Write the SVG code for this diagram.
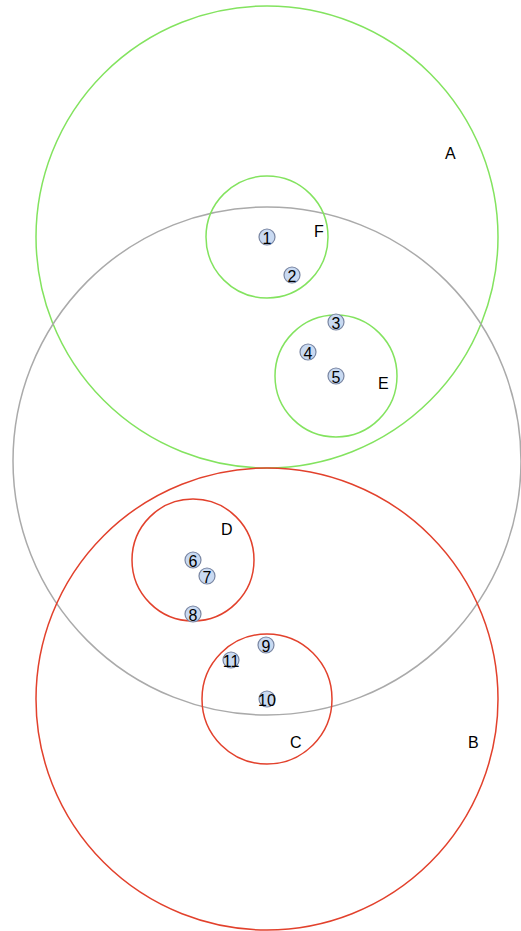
<svg xmlns="http://www.w3.org/2000/svg" width="521" height="931" viewBox="0 0 521 931">
<style>
.g{fill:none;stroke:#83e35f;stroke-width:1.5}
.r{fill:none;stroke:#e2412c;stroke-width:1.5}
.k{fill:none;stroke:#aaaaaa;stroke-width:1.5}
.lab{font-family:"Liberation Sans",Arial,sans-serif;font-size:16px;fill:#000}
.n circle{fill:#c9daf2;stroke:#7a86a2;stroke-width:1.2}
.n text{font-family:"Liberation Sans",Arial,sans-serif;font-size:16px;fill:#000;text-anchor:middle;dominant-baseline:central}
</style>
<rect width="521" height="931" fill="#fff"/>
<g id="A"><circle class="g" cx="267" cy="237" r="231"/><text class="lab" x="445" y="159">A</text></g>
<g id="G"><circle class="k" cx="267" cy="461" r="254"/></g>
<g id="B"><circle class="r" cx="267" cy="699" r="231"/><text class="lab" x="468" y="748">B</text></g>
<g id="F"><circle class="g" cx="267" cy="237" r="61"/><text class="lab" x="314" y="237">F</text></g>
<g id="E"><circle class="g" cx="336" cy="376" r="61"/><text class="lab" x="378" y="389">E</text></g>
<g id="D"><circle class="r" cx="193" cy="560" r="61"/><text class="lab" x="221" y="535">D</text></g>
<g id="C"><circle class="r" cx="267" cy="699" r="65"/><text class="lab" x="290" y="748">C</text></g>
<g id="n1" class="n"><circle cx="267" cy="237" r="8"/><text x="267" y="238">1</text></g>
<g id="n2" class="n"><circle cx="292" cy="275" r="8"/><text x="292" y="276">2</text></g>
<g id="n3" class="n"><circle cx="336" cy="322" r="8"/><text x="336" y="323">3</text></g>
<g id="n4" class="n"><circle cx="308" cy="352" r="8"/><text x="308" y="353">4</text></g>
<g id="n5" class="n"><circle cx="336" cy="376" r="8"/><text x="336" y="377">5</text></g>
<g id="n6" class="n"><circle cx="193" cy="560" r="8"/><text x="193" y="561">6</text></g>
<g id="n7" class="n"><circle cx="207" cy="576" r="8"/><text x="207" y="577">7</text></g>
<g id="n8" class="n"><circle cx="193" cy="614" r="8"/><text x="193" y="615">8</text></g>
<g id="n9" class="n"><circle cx="266" cy="645" r="8"/><text x="266" y="646">9</text></g>
<g id="n10" class="n"><circle cx="267" cy="699" r="8"/><text x="267" y="700">10</text></g>
<g id="n11" class="n"><circle cx="231" cy="660" r="8"/><text x="231" y="661">11</text></g>
<g id="connectors"></g>
</svg>
